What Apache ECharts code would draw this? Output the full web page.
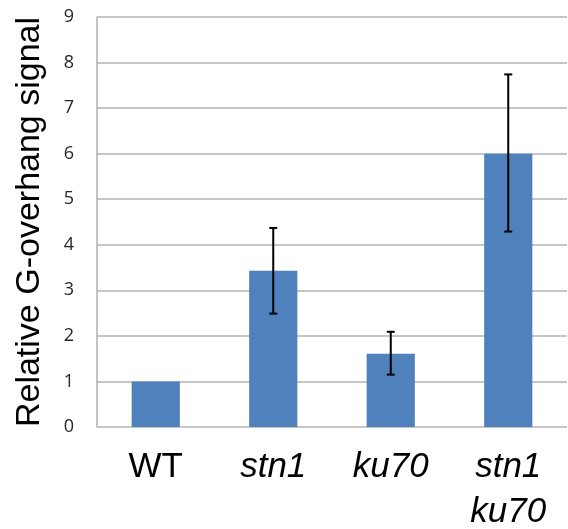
<!DOCTYPE html>
<html>
<head>
<meta charset="utf-8">
<script src="https://cdn.jsdelivr.net/npm/echarts@6/dist/echarts.min.js"></script>
<style>
  html, body { margin: 0; padding: 0; background: #fff; }
  #main { width: 568px; height: 529px; }
</style>
</head>
<body>
<div id="main"></div>
<script>
// data
var strains = ["WT", "stn1", "ku70", "stn1\nku70"];
var signal = [1.0, 3.43, 1.61, 6.0];
var errLow = [null, 2.49, 1.15, 4.29];
var errHigh = [null, 4.37, 2.09, 7.74];
var yTicks = [0, 1, 2, 3, 4, 5, 6, 7, 8, 9];

var errData = [];
for (var i = 0; i < strains.length; i++) {
    if (errLow[i] != null) errData.push([i, errLow[i], errHigh[i]]);
}

var myChart = echarts.init(document.getElementById("main"));
var option = {
    animation: false,
    grid: { left: 97, right: 1, top: 17, bottom: 102, outerBoundsMode: "none", containLabel: false },
    xAxis: {
        type: "category",
        data: strains,
        axisLine: { show: false },
        axisTick: { show: false },
        axisLabel: {
            margin: 18,
            interval: 0,
            color: "#000",
            fontFamily: "Liberation Sans",
            fontSize: 35,
            lineHeight: 45,
            // mutant names are italic
            formatter: function (v) {
                if (v == "WT") return "{n|WT}";
                return v.split("\n").map(function (s) { return "{i|" + s + "}"; }).join("\n");
            },
            rich: {
                n: { fontFamily: "Liberation Sans", fontSize: 35, lineHeight: 45, color: "#000" },
                i: { fontFamily: "Liberation Sans", fontSize: 35, lineHeight: 45, fontStyle: "italic", color: "#000" }
            }
        }
    },
    yAxis: {
        type: "value",
        min: yTicks[0],
        max: yTicks[yTicks.length - 1],
        interval: 1,
        name: "Relative G-overhang signal",
        nameLocation: "middle",
        nameRotate: 90,
        nameGap: 50,
        nameTextStyle: { fontFamily: "Liberation Sans", fontSize: 34, color: "#000" },
        axisLine: { show: true, lineStyle: { color: "#b0b0b0", width: 1.5 } },
        axisTick: { show: false },
        axisLabel: { margin: 23, color: "#262626", fontFamily: "Open Sans", fontSize: 18 },
        splitLine: { show: true, lineStyle: { color: "#b3b3b3", width: 1.5 } }
    },
    series: [
        {
            type: "bar",
            data: signal,
            barWidth: "41%",
            itemStyle: { color: "#4f81bd" }
        },
        {
            type: "custom",
            data: errData,
            z: 5,
            renderItem: function (params, api) {
                var x = api.value(0);
                var lo = api.coord([x, api.value(1)]);
                var hi = api.coord([x, api.value(2)]);
                var cap = 4;
                var st = { stroke: "#000", lineWidth: 2 };
                return {
                    type: "group",
                    children: [
                        { type: "line", shape: { x1: hi[0], y1: hi[1], x2: lo[0], y2: lo[1] }, style: st },
                        { type: "line", shape: { x1: hi[0] - cap, y1: hi[1], x2: hi[0] + cap, y2: hi[1] }, style: st },
                        { type: "line", shape: { x1: lo[0] - cap, y1: lo[1], x2: lo[0] + cap, y2: lo[1] }, style: st }
                    ]
                };
            }
        }
    ]
};
myChart.setOption(option);
</script>
</body>
</html>
